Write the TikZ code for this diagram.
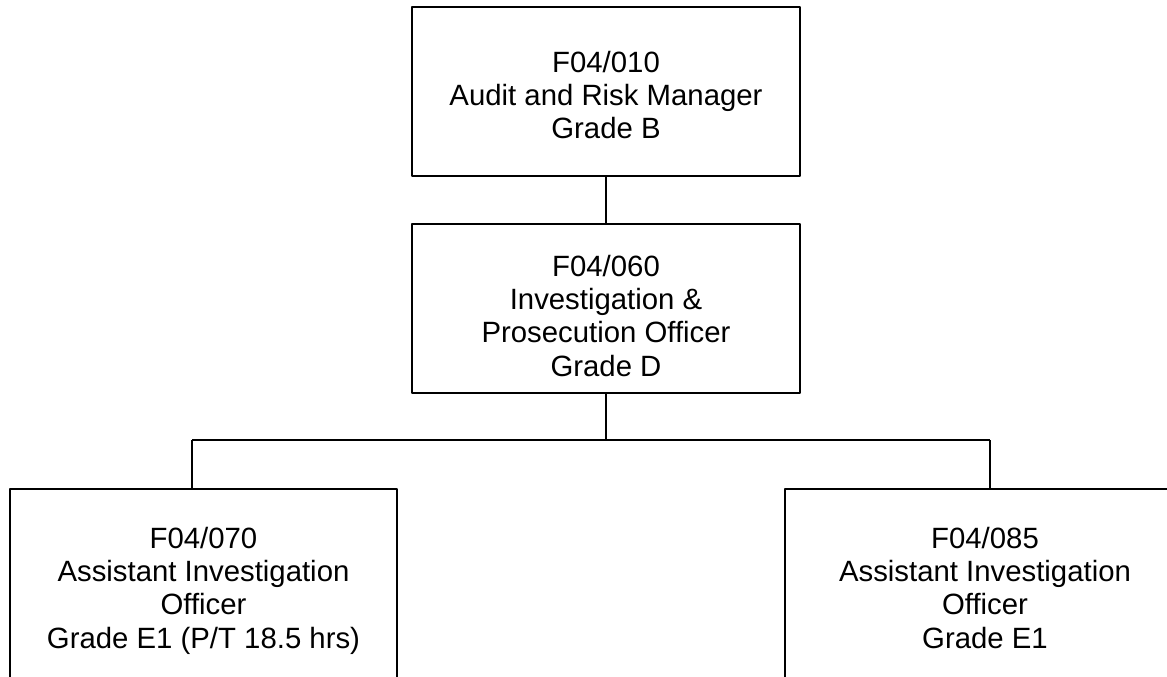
\documentclass[tikz,border=0pt]{standalone}
\usepackage{fontspec}
\setmainfont{Liberation Sans}
\begin{document}
\begin{tikzpicture}[x=0.75pt, y=-0.75pt, line width=1pt, line join=round,
		post/.style={draw, inner sep=0pt, align=center, font=\fontsize{22}{25}\selectfont, text depth=0pt}]
				\useasboundingbox (0,0) rectangle (1167,677);
				\clip (0,0) rectangle (1167,677);
				\node[post, minimum width=291pt, minimum height=126.75pt, text height=71.25pt] (mgr) at (606,91.5) {F04/010\\Audit and Risk Manager\\Grade B};
				\node[post, minimum width=291pt, minimum height=126.75pt, text height=101.25pt] (ipo) at (606,308.5) {F04/060\\Investigation \&\\Prosecution Officer\\Grade D};
				\node[post, minimum width=290.25pt, minimum height=163.5pt, text height=75pt] (aio1) at (203.5,598) {F04/070\\Assistant Investigation\\Officer\\Grade E1 (P/T 18.5 hrs)};
				\node[post, minimum width=300pt, minimum height=163.5pt, text height=75pt] (aio2) at (985,598) {F04/085\\Assistant Investigation\\Officer\\Grade E1};
				\coordinate (split) at (606,440);
				\coordinate (lt) at (192,440);
				\coordinate (rt) at (990,440);
				\draw (mgr.south)--(ipo.north);
				\draw (ipo.south)--(split);
				\draw (lt)--(rt);
				\draw (lt)--(lt |- aio1.north);
				\draw (rt)--(rt |- aio2.north);
			\end{tikzpicture}
\end{document}
